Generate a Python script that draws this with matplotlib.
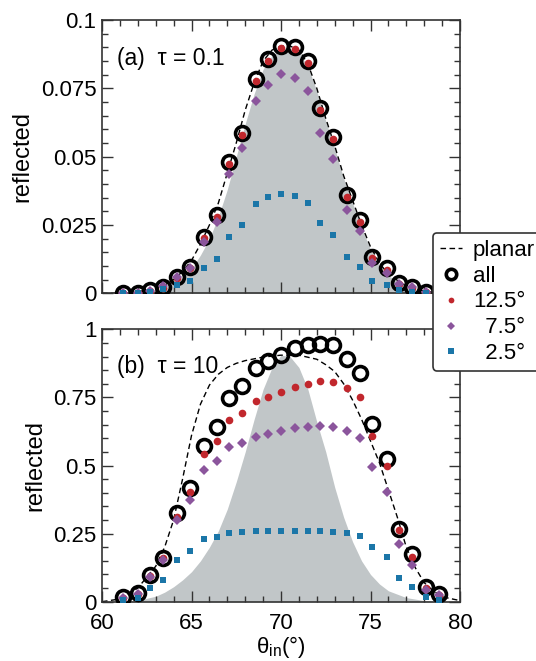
import matplotlib
matplotlib.use("Agg")
import matplotlib.pyplot as plt
from matplotlib.ticker import MultipleLocator, FixedLocator

plt.rcParams['font.family'] = ['Liberation Sans', 'DejaVu Sans']
plt.rcParams['mathtext.fontset'] = 'custom'
plt.rcParams['mathtext.rm'] = 'Liberation Sans'
plt.rcParams['mathtext.it'] = 'Liberation Sans:italic'

# ---------------- data ----------------
theta = [61.2, 62.0, 62.7, 63.4, 64.2, 64.9, 65.7, 66.4, 67.1, 67.8, 68.6, 69.3,
         70.0, 70.8, 71.5, 72.2, 72.9, 73.7, 74.4, 75.1, 75.9, 76.6, 77.3, 78.1, 78.8]

# panel (a) tau = 0.1 (24 points)
a_all = [0.0, 0.0, 0.0012, 0.0024, 0.0061, 0.0097, 0.0207, 0.0286, 0.0479, 0.0588,
         0.0784, 0.0857, 0.0906, 0.0900, 0.0850, 0.0679, 0.0573, 0.0360, 0.0268,
         0.0134, 0.0091, 0.0039, 0.0024, 0.0006]
a_125 = [0.0, 0.0, 0.0010, 0.0021, 0.0057, 0.0093, 0.0201, 0.0280, 0.0472, 0.0581,
         0.0776, 0.0850, 0.0899, 0.0893, 0.0843, 0.0672, 0.0566, 0.0354, 0.0262,
         0.0129, 0.0086, 0.0035, 0.0021, 0.0004]
a_75 = [0.0, 0.0, 0.0008, 0.0027, 0.0061, 0.0094, 0.0189, 0.0260, 0.0437, 0.0533,
        0.0704, 0.0762, 0.0802, 0.0789, 0.0741, 0.0585, 0.0490, 0.0305, 0.0228,
        0.0110, 0.0073, 0.0034, 0.0022, 0.0006]
a_25 = [0.0, 0.0, 0.0006, 0.0015, 0.0030, 0.0045, 0.0094, 0.0124, 0.0207, 0.0250,
        0.0327, 0.0351, 0.0362, 0.0356, 0.0329, 0.0258, 0.0213, 0.0132, 0.0097,
        0.0046, 0.0030, 0.0012, 0.0006, 0.0]

# panel (b) tau = 10 (25 points)
b_all = [0.016, 0.033, 0.098, 0.162, 0.325, 0.416, 0.573, 0.640, 0.749, 0.792, 0.857,
         0.884, 0.907, 0.932, 0.942, 0.946, 0.941, 0.891, 0.841, 0.651, 0.524, 0.267,
         0.174, 0.055, 0.028]
b_125 = [0.015, 0.030, 0.095, 0.160, 0.312, 0.404, 0.541, 0.591, 0.667, 0.694, 0.738,
         0.753, 0.769, 0.789, 0.798, 0.809, 0.807, 0.786, 0.753, 0.609, 0.499, 0.263,
         0.165, 0.049, 0.025]
b_75 = [0.015, 0.030, 0.090, 0.153, 0.300, 0.373, 0.483, 0.517, 0.567, 0.584, 0.606,
        0.616, 0.627, 0.639, 0.640, 0.646, 0.642, 0.627, 0.602, 0.493, 0.404, 0.212,
        0.135, 0.043, 0.025]
b_25 = [0.006, 0.015, 0.049, 0.080, 0.153, 0.187, 0.229, 0.239, 0.251, 0.255, 0.258,
        0.258, 0.258, 0.261, 0.258, 0.258, 0.256, 0.251, 0.241, 0.200, 0.163, 0.086,
        0.054, 0.017, 0.006]

# planar curves
pa_x = [60, 61, 62, 63, 63.5, 64, 64.5, 65, 65.5, 66, 66.5, 67, 67.5, 68, 68.5, 69,
        69.5, 70, 70.5, 71, 71.5, 72, 72.5, 73, 73.5, 74, 74.5, 75, 75.5, 76, 77, 78, 79, 80]
pa_y = [0.0, 0.0, 0.0005, 0.002, 0.003, 0.005, 0.008, 0.012, 0.018, 0.025, 0.033,
        0.044, 0.055, 0.067, 0.077, 0.085, 0.089, 0.0905, 0.0905, 0.089, 0.084, 0.075,
        0.064, 0.054, 0.043, 0.034, 0.025, 0.017, 0.011, 0.007, 0.0025, 0.0008, 0.0, 0.0]
# grey area in panel (a)
ga_y = [0.0, 0.0, 0.0, 0.001, 0.002, 0.0035, 0.006, 0.009, 0.014, 0.020, 0.028,
        0.038, 0.050, 0.062, 0.073, 0.082, 0.087, 0.0895, 0.0895, 0.088, 0.083, 0.074,
        0.063, 0.053, 0.042, 0.033, 0.024, 0.016, 0.010, 0.0065, 0.002, 0.0005, 0.0, 0.0]

pb_x = [60, 61, 62, 62.5, 63, 63.5, 64, 64.5, 65, 65.5, 66, 66.5, 67, 67.5, 68, 69, 70,
        71, 72, 72.5, 73, 73.5, 74, 74.5, 75, 75.5, 76, 76.5, 77, 77.5, 78, 78.5, 79, 80]
pb_y = [0.0, 0.01, 0.05, 0.09, 0.13, 0.20, 0.30, 0.45, 0.61, 0.725, 0.795, 0.835, 0.86,
        0.875, 0.885, 0.898, 0.905, 0.905, 0.89, 0.87, 0.845, 0.80, 0.74, 0.67, 0.59,
        0.51, 0.41, 0.31, 0.20, 0.125, 0.07, 0.04, 0.018, 0.004]

# grey area in panel (b)
g_x = [60, 61, 62, 63, 63.5, 64, 64.5, 65, 65.5, 66, 66.5, 67, 67.5, 68, 68.5, 69,
       69.5, 70, 70.5, 71, 71.5, 72, 72.5, 73, 73.5, 74, 74.5, 75, 75.5, 76, 77, 78, 79, 80]
gb_y = [0.0, 0.0, 0.005, 0.02, 0.035, 0.055, 0.08, 0.11, 0.15, 0.20, 0.26, 0.34, 0.44,
        0.55, 0.67, 0.78, 0.86, 0.905, 0.90, 0.86, 0.78, 0.66, 0.55, 0.42, 0.31, 0.22,
        0.15, 0.10, 0.065, 0.04, 0.015, 0.004, 0.0, 0.0]

# ---------------- styling ----------------
C_RED = '#c1272d'
C_PUR = '#8b559c'
C_BLU = '#1b76a8'
C_GREY = '#c1c6c8'
FS = 16

fig = plt.figure(figsize=(5.36, 6.61), dpi=100)
L, R = 102 / 536, 460 / 536
axa = fig.add_axes([L, 1 - 293.3 / 661, R - L, (293.3 - 20) / 661])
axb = fig.add_axes([L, 1 - 601.7 / 661, R - L, (601.7 - 329.3) / 661])


def draw(ax, xs, yall, y125, y75, y25, px, py, gx, gy):
    n = len(yall)
    x = xs[:n]
    ax.fill_between(gx, 0, gy, color=C_GREY, lw=0, zorder=1)
    ax.plot(px, py, ls=(0, (4, 2.5)), color='black', lw=1.0, zorder=2, label='planar')
    ax.plot(x, yall, 'o', ms=10, mfc='none', mec='black', mew=2.6, zorder=3, label='all')
    ax.plot(x, y125, 'o', ms=5.5, color=C_RED, mew=0, zorder=4, label='12.5°')
    ax.plot(x, y75, 'D', ms=5, color=C_PUR, mew=0, zorder=5, label='  7.5°')
    ax.plot(x, y25, 's', ms=5, color=C_BLU, mew=0, zorder=6, label='  2.5°')
    ax.set_xlim(60, 80)
    ax.xaxis.set_major_locator(MultipleLocator(5))
    ax.xaxis.set_minor_locator(MultipleLocator(1))
    ax.tick_params(which='both', direction='in', top=True, right=True,
                   labelsize=FS, colors='#333333', labelcolor='black', width=1.0)
    ax.tick_params(which='major', length=8, pad=4)
    ax.tick_params(axis='x', which='major', pad=8)
    ax.tick_params(which='minor', length=4)
    for s in ax.spines.values():
        s.set_color('#333333')
        s.set_linewidth(1.2)
    ax.set_ylabel('reflected', fontsize=FS + 1, labelpad=5)


draw(axa, theta, a_all, a_125, a_75, a_25, pa_x, pa_y, pa_x, ga_y)
axa.set_ylim(0, 0.1)
axa.yaxis.set_major_locator(FixedLocator([0, 0.025, 0.05, 0.075, 0.1]))
axa.set_yticklabels(['0', '0.025', '0.05', '0.075', '0.1'])
axa.yaxis.set_minor_locator(MultipleLocator(0.005))
axa.set_xticklabels([])
axa.text(0.041, 0.86, '(a)  τ = 0.1', transform=axa.transAxes, fontsize=FS + 0.5, va='center')

draw(axb, theta, b_all, b_125, b_75, b_25, pb_x, pb_y, g_x, gb_y)
axb.set_ylim(0, 1)
axb.yaxis.set_major_locator(FixedLocator([0, 0.25, 0.5, 0.75, 1]))
axb.set_yticklabels(['0', '0.25', '0.5', '0.75', '1'])
axb.yaxis.set_minor_locator(MultipleLocator(0.05))
axb.text(0.041, 0.865, '(b)  τ = 10', transform=axb.transAxes, fontsize=FS + 0.5, va='center')
axb.set_xlabel('θ$_{\\mathrm{in}}$(°)', fontsize=FS, labelpad=0)

handles, labels = axa.get_legend_handles_labels()
leg = fig.legend(handles, labels, loc='upper left', bbox_to_anchor=(433 / 536, 1 - 233 / 661),
                 fontsize=FS, frameon=True, fancybox=True, markerscale=0.75,
                 handlelength=1.0, handletextpad=0.5, borderpad=0.3, labelspacing=0.22,
                 borderaxespad=0)
leg.get_frame().set_edgecolor('#333333')
leg.get_frame().set_linewidth(1.2)
leg.get_frame().set_alpha(1)

fig.savefig('out.png', dpi=100)
